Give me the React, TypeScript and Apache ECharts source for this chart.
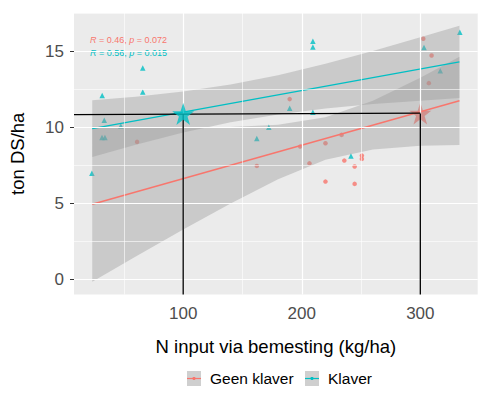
import React, { useEffect, useRef } from 'react';
import * as echarts from 'echarts';

const SALMON = '#F8766D';
const CYAN = '#00BFC4';
const FONT = '"Liberation Sans", Arial, sans-serif';

// axis ranges (ggplot expanded)
const xMin = 7.9;
const xMax = 348.4;
const yMin = -1;
const yMax = 17.5;

const xTicks = [100, 200, 300];
const xMinor = [50, 150, 250];
const yTicks = [0, 5, 10, 15];
const yMinor = [2.5, 7.5, 12.5, 17.5];

// Geen klaver (circles)
const geenX = [61.1, 162.1, 189.8, 198.7, 206.5, 220, 220, 233.6, 235.9, 244.6, 244.6, 250.7, 250.7, 302.5, 307.2, 309.5];
const geenY = [9.03, 7.45, 11.84, 8.72, 7.62, 8.94, 6.42, 9.49, 7.8, 7.41, 6.27, 8.13, 7.91, 15.81, 12.89, 14.71];

// Klaver (triangles)
const klaverX = [23.0, 31.5, 31.7, 33.4, 34.0, 47.4, 65.9, 65.9, 162.1, 172.2, 189.8, 209.4, 209.4, 209.4, 241.5, 303.1, 316.8, 333.3];
const klaverY = [6.97, 9.32, 12.07, 10.45, 9.32, 10.08, 13.88, 12.3, 9.25, 9.99, 11.24, 10.98, 15.26, 15.65, 8.11, 15.23, 13.7, 16.24];

// confidence bands
const bandX = [23.3, 60, 100, 140, 180, 220, 260, 300, 333];
const geenLo = [-0.16, 1.49, 3.27, 4.98, 6.58, 7.85, 8.53, 8.77, 8.83];
const geenHi = [10.02, 9.99, 9.97, 10.0, 10.16, 10.65, 11.73, 13.25, 14.63];
const klaverLo = [8.04, 8.84, 9.64, 10.32, 10.83, 11.22, 11.52, 11.74, 11.91];
const klaverHi = [11.76, 12.0, 12.34, 12.8, 13.41, 14.16, 15.0, 15.9, 16.67];

// fitted lines
const fitX = [23.3, 333];
const geenFit = [4.93, 11.73];
const klaverFit = [9.9, 14.29];

// stars and reference lines
const starX = [100, 300];
const starY = [10.87, 10.9];
const refY = [10.82, 10.92];

const STAR = 'path://M50,0 L61.8,35.1 L98.9,35.1 L69.1,57 L80.3,91.9 L50,70.3 L19.7,91.9 L30.9,57 L1.1,35.1 L38.2,35.1 Z';

function band(lo: number[], hi: number[], z: number) {
  return {
    type: 'custom',
    z,
    silent: true,
    data: bandX.map((x, i) => [x, lo[i], hi[i]]),
    encode: { x: 0, y: [1, 2] },
    renderItem: (params: any, api: any) => {
      if (params.dataIndex !== 0) return null;
      const top = bandX.map((x, i) => api.coord([x, hi[i]]));
      const bot = bandX.map((x, i) => api.coord([x, lo[i]])).reverse();
      return {
        type: 'polygon',
        shape: { points: top.concat(bot) },
        style: { fill: 'rgba(153,153,153,0.4)' },
      };
    },
  };
}

export default function App() {
  const ref = useRef<HTMLDivElement>(null);
  useEffect(() => {
    const chart = echarts.init(ref.current!, null, { renderer: 'svg' });
    const gridLines = [
      ...xMinor.map((v) => ({ xAxis: v, lineStyle: { color: '#fff', width: 0.6, type: 'solid' } })),
      ...yMinor.map((v) => ({ yAxis: v, lineStyle: { color: '#fff', width: 0.6, type: 'solid' } })),
      ...xTicks.map((v) => ({ xAxis: v, lineStyle: { color: '#fff', width: 1.2, type: 'solid' } })),
      ...yTicks.map((v) => ({ yAxis: v, lineStyle: { color: '#fff', width: 1.2, type: 'solid' } })),
    ];
    const option: any = {
      animation: false,
      backgroundColor: '#fff',
      textStyle: { fontFamily: FONT },
      grid: {
        left: 72,
        right: 11.3,
        top: 13,
        bottom: 98.5,
        show: true,
        backgroundColor: '#EBEBEB',
        borderWidth: 0,
      },
      xAxis: {
        type: 'value',
        min: xMin,
        max: xMax,
        axisLine: { show: false },
        splitLine: { show: false },
        axisTick: { show: true, customValues: xTicks, length: 4, lineStyle: { color: '#333', width: 1 } },
        axisLabel: { customValues: xTicks, fontSize: 17, color: '#4D4D4D', margin: 10, fontFamily: FONT },
        name: 'N input via bemesting (kg/ha)',
        nameLocation: 'middle',
        nameGap: 42,
        nameTextStyle: { fontSize: 18.5, color: '#000', fontFamily: FONT },
      },
      yAxis: {
        type: 'value',
        min: yMin,
        max: yMax,
        axisLine: { show: false },
        splitLine: { show: false },
        axisTick: { show: true, customValues: yTicks, length: 4, lineStyle: { color: '#333', width: 1 } },
        axisLabel: { customValues: yTicks, fontSize: 17, color: '#4D4D4D', margin: 10, fontFamily: FONT },
        name: 'ton DS/ha',
        nameLocation: 'middle',
        nameGap: 47,
        nameTextStyle: { fontSize: 18.5, color: '#000', fontFamily: FONT },
      },
      series: [
        {
          type: 'scatter',
          z: 1,
          silent: true,
          data: [],
          markLine: {
            silent: true,
            symbol: ['none', 'none'],
            label: { show: false },
            animation: false,
            data: gridLines,
          },
        },
        {
          name: 'Geen klaver',
          type: 'scatter',
          z: 2,
          symbol: 'circle',
          symbolSize: 4.5,
          itemStyle: { color: SALMON },
          data: geenX.map((x, i) => [x, geenY[i]]),
        },
        {
          name: 'Klaver',
          type: 'scatter',
          z: 2,
          symbol: 'triangle',
          symbolSize: 5.5,
          itemStyle: { color: CYAN },
          data: klaverX.map((x, i) => [x, klaverY[i]]),
        },
        {
          type: 'scatter',
          z: 2,
          symbol: STAR,
          symbolSize: [22, 22],
          itemStyle: { color: SALMON },
          data: [[starX[1], starY[1]]],
        },
        band(geenLo, geenHi, 3),
        band(klaverLo, klaverHi, 3),
        {
          type: 'line',
          z: 4,
          symbol: 'none',
          lineStyle: { color: SALMON, width: 1.4 },
          data: fitX.map((x, i) => [x, geenFit[i]]),
        },
        {
          type: 'line',
          z: 4,
          symbol: 'none',
          lineStyle: { color: CYAN, width: 1.4 },
          data: fitX.map((x, i) => [x, klaverFit[i]]),
        },
        {
          type: 'line',
          z: 5,
          symbol: 'none',
          lineStyle: { color: '#000', width: 1.3 },
          data: [[xMin, refY[0]], [starX[1], refY[1]]],
        },
        {
          type: 'line',
          z: 5,
          symbol: 'none',
          lineStyle: { color: '#000', width: 1.3 },
          data: [[starX[0], starY[0]], [starX[0], yMin]],
        },
        {
          type: 'line',
          z: 5,
          symbol: 'none',
          lineStyle: { color: '#000', width: 1.3 },
          data: [[starX[1], starY[1]], [starX[1], yMin]],
        },
        {
          type: 'scatter',
          z: 6,
          symbol: STAR,
          symbolSize: [22, 22],
          itemStyle: { color: CYAN },
          data: [[starX[0], starY[0]]],
        },
      ],
      graphic: [
        {
          type: 'text',
          left: 90,
          top: 35,
          style: {
            text: '{i|R} = 0.46, {i|p} = 0.072',
            fill: SALMON,
            font: `9px ${FONT}`,
            rich: { i: { fontStyle: 'italic', fill: SALMON, fontSize: 9, fontFamily: FONT } },
          },
        },
        {
          type: 'text',
          left: 90,
          top: 48,
          style: {
            text: '{i|R} = 0.56, {i|p} = 0.015',
            fill: CYAN,
            font: `9px ${FONT}`,
            rich: { i: { fontStyle: 'italic', fill: CYAN, fontSize: 9, fontFamily: FONT } },
          },
        },
        { type: 'rect', shape: { x: 187, y: 371, width: 14, height: 15 }, style: { fill: '#CFCFCF' } },
        { type: 'line', shape: { x1: 187, y1: 378.5, x2: 201, y2: 378.5 }, style: { stroke: SALMON, lineWidth: 1.2 } },
        { type: 'circle', shape: { cx: 194, cy: 378.5, r: 1.6 }, style: { fill: SALMON } },
        { type: 'text', left: 210, top: 370, style: { text: 'Geen klaver', fill: '#000', font: `15.5px ${FONT}` } },
        { type: 'rect', shape: { x: 305, y: 371, width: 14, height: 15 }, style: { fill: '#CFCFCF' } },
        { type: 'line', shape: { x1: 305, y1: 378.5, x2: 319, y2: 378.5 }, style: { stroke: CYAN, lineWidth: 1.2 } },
        { type: 'circle', shape: { cx: 312, cy: 378.5, r: 1.6 }, style: { fill: CYAN } },
        { type: 'text', left: 328, top: 370, style: { text: 'Klaver', fill: '#000', font: `15.5px ${FONT}` } },
      ],
    };
    chart.setOption(option);
    return () => chart.dispose();
  }, []);
  return <div ref={ref} style={{ position: 'absolute', left: 0, top: 0, width: 489, height: 393 }} />;
}
